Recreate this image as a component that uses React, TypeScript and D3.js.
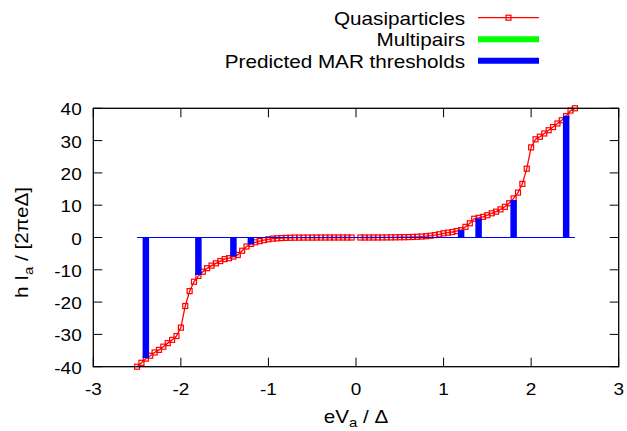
import React from "react";
import * as d3 from "d3";

// Quasiparticle current, negative-bias branch
const qpVoltageNeg = [
  -2.5, -2.45, -2.4, -2.35, -2.3, -2.25, -2.2, -2.15, -2.1, -2.05,
  -2.0, -1.95, -1.9, -1.85, -1.8, -1.75, -1.7, -1.65, -1.6, -1.55,
  -1.5, -1.45, -1.4, -1.35, -1.3, -1.25, -1.2, -1.15, -1.1, -1.05,
  -1.0, -0.95, -0.9, -0.85, -0.8, -0.75, -0.7, -0.65, -0.6, -0.55,
  -0.5, -0.45, -0.4, -0.35, -0.3, -0.25, -0.2, -0.15, -0.1, -0.05,
];
const qpCurrentNeg = [
  -40.0, -38.8, -37.5, -36.6, -35.6, -34.8, -33.8, -32.7, -31.7, -30.5,
  -27.9, -21.2, -16.6, -13.7, -11.9, -10.6, -9.5, -8.7, -8.0, -7.3,
  -6.7, -6.4, -5.9, -5.4, -4.1, -2.8, -2.0, -1.5, -1.1, -0.8,
  -0.55, -0.35, -0.25, -0.18, -0.12, -0.08, -0.05, -0.04, -0.03, -0.02,
  -0.02, -0.01, -0.01, -0.01, 0, 0, 0, 0, 0, 0,
];
// Quasiparticle current, positive-bias branch
const qpVoltagePos = [
  0.05, 0.1, 0.15, 0.2, 0.25, 0.3, 0.35, 0.4, 0.45, 0.5,
  0.55, 0.6, 0.65, 0.7, 0.75, 0.8, 0.85, 0.9, 0.95, 1.0,
  1.05, 1.1, 1.15, 1.2, 1.25, 1.3, 1.35, 1.4, 1.45, 1.5,
  1.55, 1.6, 1.65, 1.7, 1.75, 1.8, 1.85, 1.9, 1.95, 2.0,
  2.05, 2.1, 2.15, 2.2, 2.25, 2.3, 2.35, 2.4, 2.45, 2.5,
];
const qpCurrentPos = [
  0, 0, 0, 0, 0.01, 0.02, 0.03, 0.04, 0.06, 0.08,
  0.1, 0.13, 0.17, 0.22, 0.3, 0.4, 0.55, 0.75, 1.0, 1.3,
  1.5, 1.7, 2.0, 2.3, 3.3, 4.4, 5.8, 6.1, 6.4, 6.9,
  7.5, 8.0, 8.7, 9.5, 10.6, 12.1, 13.9, 16.6, 21.3, 27.9,
  30.4, 31.2, 32.2, 33.2, 34.2, 35.3, 36.3, 37.6, 39.3, 40.0,
];

// Predicted MAR thresholds
const marVoltage = [-2.4, -1.8, -1.4, -1.2, 1.2, 1.4, 1.8, 2.4];
const marCurrent = [-37.3, -11.6, -5.9, -2.1, 2.3, 5.9, 11.6, 37.7];
const marRange = [-2.5, 2.5];

const xTicks = [-3, -2, -1, 0, 1, 2, 3];
const yTicks = [-40, -30, -20, -10, 0, 10, 20, 30, 40];
const legendLabels = ["Quasiparticles", "Multipairs", "Predicted MAR thresholds"];

const W = 627;
const H = 431;
const L = 93.3, R = 618.7, T = 108.3, B = 366.7;
const FONT = "'Liberation Sans', Arial, Helvetica, sans-serif";
const SX = 1.15;

export default function App() {
  const x = d3.scaleLinear().domain([-3, 3]).range([L, R]);
  const y = d3.scaleLinear().domain([-40, 40]).range([B, T]);
  const line = d3.line<[number, number]>().x((d) => x(d[0])).y((d) => y(d[1]));
  const negPts: [number, number][] = qpVoltageNeg.map((v, i) => [v, qpCurrentNeg[i]]);
  const posPts: [number, number][] = qpVoltagePos.map((v, i) => [v, qpCurrentPos[i]]);
  const allPts = negPts.concat(posPts);
  const tickLen = 9;
  const ms = 5;

  const legendRows = [17.7, 39.3, 60.7];
  const legX0 = 478, legX1 = 539, legTextX = 465;

  return (
    <svg width={W} height={H} style={{ position: "absolute", left: 0, top: 0, background: "#fff" }} fontFamily={FONT}>
      <rect x={0} y={0} width={W} height={H} fill="#fff" />
      {/* ticks */}
      {xTicks.map((t) => (
        <g key={"xt" + t}>
          <line x1={x(t)} x2={x(t)} y1={B} y2={B - tickLen} stroke="#000" strokeWidth={1} />
          <line x1={x(t)} x2={x(t)} y1={T} y2={T + tickLen} stroke="#000" strokeWidth={1} />
          <g transform={`translate(${x(t)},${395}) scale(${SX},1)`}>
            <text textAnchor="middle" fontSize={16.5} fill="#000">{t}</text>
          </g>
        </g>
      ))}
      {yTicks.map((t) => (
        <g key={"yt" + t}>
          <line x1={L} x2={L + tickLen} y1={y(t)} y2={y(t)} stroke="#000" strokeWidth={1} />
          <line x1={R} x2={R - tickLen} y1={y(t)} y2={y(t)} stroke="#000" strokeWidth={1} />
          <g transform={`translate(${81.7},${y(t) + 7}) scale(${SX},1)`}>
            <text textAnchor="end" fontSize={16.5} fill="#000">{t}</text>
          </g>
        </g>
      ))}

      {/* quasiparticle curve */}
      <path d={line(negPts) || ""} fill="none" stroke="#ff0000" strokeWidth={1.3} />
      <path d={line(posPts) || ""} fill="none" stroke="#ff0000" strokeWidth={1.3} />
      {allPts.map((p, i) => (
        <rect key={"m" + i} x={x(p[0]) - ms / 2} y={y(p[1]) - ms / 2} width={ms} height={ms}
          fill="none" stroke="#ff0000" strokeWidth={1.2} />
      ))}

      {/* MAR thresholds */}
      <line x1={x(marRange[0])} x2={x(marRange[1])} y1={y(0)} y2={y(0)} stroke="#0000ff" strokeWidth={1} />
      {marVoltage.map((v, i) => (
        <line key={"mar" + i} x1={x(v)} x2={x(v)} y1={y(0)} y2={y(marCurrent[i])} stroke="#0000ff" strokeWidth={6.5} />
      ))}

      {/* frame */}
      <rect x={L} y={T} width={R - L} height={B - T} fill="none" stroke="#000" strokeWidth={1.3} />

      {/* axis titles */}
      <g transform={`translate(${356},${423}) scale(${SX},1)`}>
        <text textAnchor="middle" fontSize={18} fill="#000">
          eV<tspan fontSize={13} dy={4}>a</tspan><tspan dy={-4}> / Δ</tspan>
        </text>
      </g>
      <g transform={`translate(${27.5},${242.5}) rotate(-90) scale(${SX},1)`}>
        <text textAnchor="middle" fontSize={18} fill="#000">
          h I<tspan fontSize={13} dy={5}>a</tspan><tspan dy={-5}> / [2πeΔ]</tspan>
        </text>
      </g>

      {/* legend */}
      {legendLabels.map((lab, i) => (
        <g key={"leg" + i} transform={`translate(${legTextX},${legendRows[i] + 7}) scale(${SX},1)`}>
          <text textAnchor="end" fontSize={18} fill="#000">{lab}</text>
        </g>
      ))}
      <line x1={legX0} x2={legX1} y1={legendRows[0]} y2={legendRows[0]} stroke="#ff0000" strokeWidth={1.3} />
      <rect x={(legX0 + legX1) / 2 - ms / 2} y={legendRows[0] - ms / 2} width={ms} height={ms} fill="none" stroke="#ff0000" strokeWidth={1.2} />
      <line x1={legX0} x2={legX1} y1={legendRows[1]} y2={legendRows[1]} stroke="#00ff00" strokeWidth={6} />
      <line x1={legX0} x2={legX1} y1={legendRows[2]} y2={legendRows[2]} stroke="#0000ff" strokeWidth={6} />
    </svg>
  );
}
